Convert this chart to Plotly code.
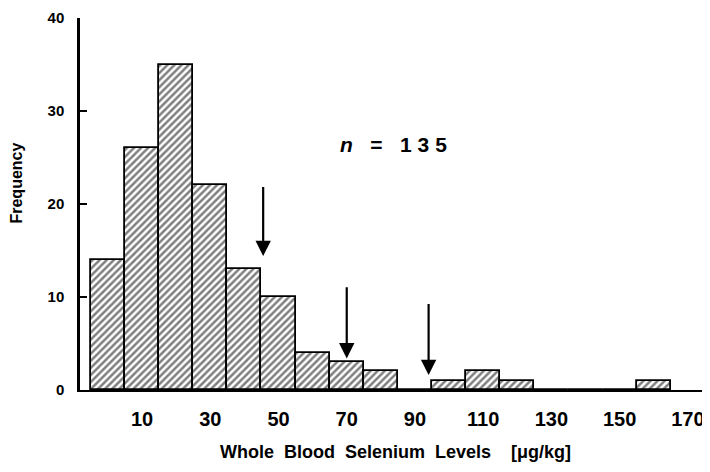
import plotly.graph_objects as go

bin_centers = [0, 10, 20, 30, 40, 50, 60, 70, 80, 90, 100, 110, 120, 130, 140, 150, 160]
frequency = [14, 26, 35, 22, 13, 10, 4, 3, 2, 0, 1, 2, 1, 0, 0, 0, 1]
tick_vals = [10, 30, 50, 70, 90, 110, 130, 150, 170]
tick_text = ["10", "30", "50", "70", "90", "110", "130", "150", "170"]
y_ticks = [0, 10, 20, 30, 40]
arrow_x = [45.5, 70, 94]
arrow_top = [22, 11.2, 9.4]
arrow_tip = [14.4, 3.4, 1.6]

FONT = "Liberation Sans, Arial, sans-serif"

fig = go.Figure()
fig.add_trace(go.Bar(
    x=bin_centers, y=frequency, width=10,
    marker=dict(color="white",
                line=dict(color="black", width=1.8),
                pattern=dict(shape="/", fgcolor="black", bgcolor="white",
                             size=5, solidity=0.5)),
    showlegend=False,
))

for x, y0, y1 in zip(arrow_x, arrow_top, arrow_tip):
    fig.add_annotation(x=x, y=y1, ax=x, ay=y0, xref="x", yref="y",
                       axref="x", ayref="y", showarrow=True,
                       arrowhead=2, arrowsize=1.4, arrowwidth=2.2,
                       arrowcolor="black", text="")

fig.add_annotation(x=0.41, y=0.66, xref="paper", yref="paper",
                   text="<i>n</i>   =   1 3 5", showarrow=False,
                   font=dict(family=FONT, size=21, color="black", weight="bold"),
                   xanchor="left", yanchor="middle")

fig.add_annotation(x=-0.1, y=0.555, xref="paper", yref="paper",
                   text="Frequency", showarrow=False, textangle=-90,
                   font=dict(family=FONT, size=16, color="black", weight="bold"),
                   xanchor="center", yanchor="middle")

fig.add_annotation(x=0.5, y=-0.166, xref="paper", yref="paper",
                   text="Whole  Blood  Selenium  Levels    [μg/kg]", showarrow=False,
                   font=dict(family=FONT, size=18, color="black", weight="bold"),
                   xanchor="center", yanchor="middle")

fig.update_layout(
    width=702, height=464,
    margin=dict(l=72, r=0, t=10, b=82),
    paper_bgcolor="white", plot_bgcolor="white",
    bargap=0,
    xaxis=dict(range=[-8.2, 176.5], tickvals=tick_vals, ticktext=tick_text,
               showline=True, linecolor="black", linewidth=2,
               showgrid=False, zeroline=False, ticks="", automargin=False,
               ticklabelstandoff=10, ticklabeloverflow="allow",
               tickfont=dict(family=FONT, size=20, color="black", weight="bold")),
    yaxis=dict(range=[0, 40], tickvals=y_ticks, automargin=False,
               showline=True, linecolor="black", linewidth=2.5,
               showgrid=False, zeroline=False,
               ticks="inside", ticklen=7, tickwidth=2, tickcolor="black",
               ticklabelstandoff=10, ticklabeloverflow="allow",
               tickfont=dict(family=FONT, size=15, color="black", weight="bold")),
)

fig.write_html("out.html")
